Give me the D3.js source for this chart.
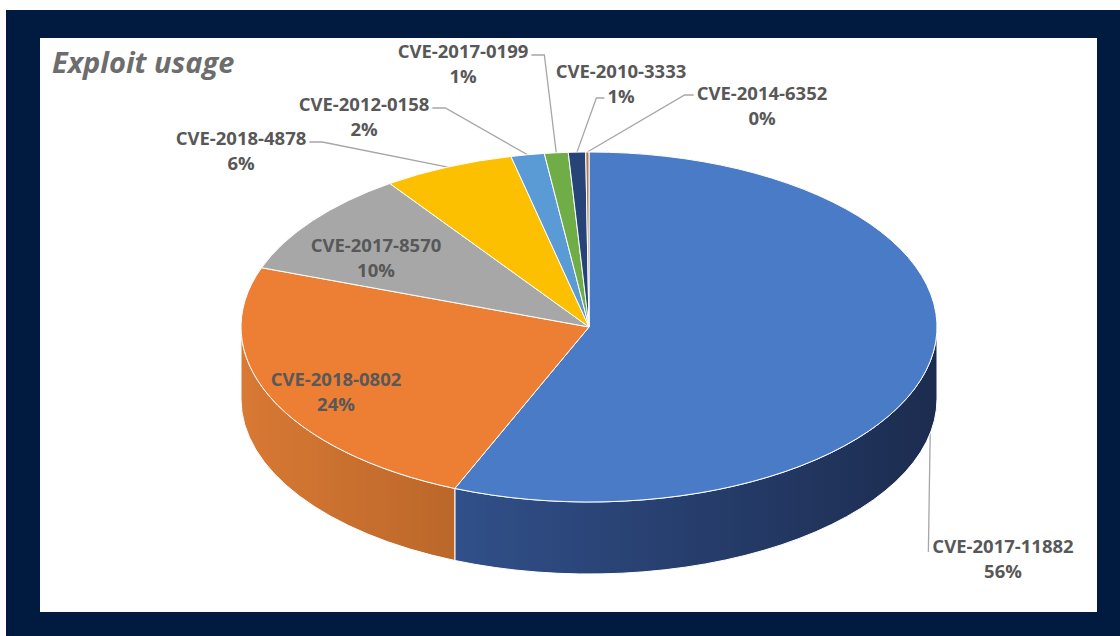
<!doctype html>
<html>
  <head>
    <script src="https://cdn.jsdelivr.net/npm/d3@7"></script>
    <style>
      body {
          margin: 0;
          background: #fff;
          font-family: "Open Sans", sans-serif;
      }
      .title {
          font-size: 29px;
          font-weight: 700;
          font-style: italic;
          fill: #6d6d6d;
      }
      .lbl {
          font-size: 18.5px;
          font-weight: 700;
          fill: #585858;
          text-anchor: middle;
      }
      .leader {
          fill: none;
          stroke: #a6a6a6;
          stroke-width: 1.3;
      }
    </style>
  </head>
  <body>
    <script type="text/javascript">
        // data
        var categories = ["CVE-2017-11882", "CVE-2018-0802", "CVE-2017-8570", "CVE-2018-4878",
                          "CVE-2012-0158", "CVE-2017-0199", "CVE-2010-3333", "CVE-2014-6352"];
        var shares = [56.3, 24.2, 9.8, 6.1, 1.55, 1.1, 0.8, 0.15];

        // styles
        var topColors = ["#4a7bc7", "#ed7f34", "#a7a7a7", "#fdc000", "#5b9bd5", "#70ad47", "#264478", "#b07850"];
        var sideColors = [["#3a5fa3", "#1c2c4f"], ["#d87934", "#7a3f14"], ["#999", "#666"], ["#d9a300", "#a07800"],
                          ["#4d85b8", "#35638c"], ["#5f933c", "#45702b"], ["#203a66", "#172a4a"], ["#86400c", "#5e2d08"]];

        // label placement (center x, baseline of first line, where the leader meets the text)
        var labelLayout = {
            "CVE-2017-11882": {x: 1003, y: 553, end: "below"},
            "CVE-2018-0802":  {x: 336, y: 386, end: "inside"},
            "CVE-2017-8570":  {x: 376, y: 252, end: "inside"},
            "CVE-2018-4878":  {x: 241, y: 145, end: "right1"},
            "CVE-2012-0158":  {x: 364, y: 111, end: "right1"},
            "CVE-2017-0199":  {x: 463, y: 58,  end: "right1"},
            "CVE-2010-3333":  {x: 621, y: 78,  end: "left2"},
            "CVE-2014-6352":  {x: 762, y: 100, end: "left1"}
        };

        var W = 1120, H = 636;
        var cx = 589, cy = 327, rx = 348, ry = 175, depth = 72;

        var svg = d3.select("body").append("svg")
            .attr("width", W)
            .attr("height", H);

        // frame
        svg.append("rect").attr("x", 6).attr("y", 10).attr("width", W - 6).attr("height", H - 10).attr("fill", "#011b40");
        svg.append("rect").attr("x", 40).attr("y", 38).attr("width", 1057).attr("height", 574).attr("fill", "#fff");

        svg.append("text")
            .attr("class", "title")
            .attr("x", 52)
            .attr("y", 73)
            .text("Exploit usage");

        var data = categories.map(function(c, i) { return {name: c, value: shares[i], i: i}; });

        var pie = d3.pie()
            .sort(null)
            .value(d => d.value)
            .startAngle(0)
            .endAngle(2 * Math.PI);

        var arcs = pie(data);

        function pt(a, dy) {
            return [cx + rx * Math.sin(a), cy - ry * Math.cos(a) + (dy || 0)];
        }

        function topPath(a0, a1) {
            var p0 = pt(a0), p1 = pt(a1);
            return "M" + cx + "," + cy + "L" + p0 + "A" + rx + "," + ry + " 0 " + (a1 - a0 > Math.PI ? 1 : 0) + " 1 " + p1 + "Z";
        }

        function sidePath(a0, a1) {
            var p0 = pt(a0), p1 = pt(a1), q1 = pt(a1, depth), q0 = pt(a0, depth);
            return "M" + p0 + "A" + rx + "," + ry + " 0 0 1 " + p1 + "L" + q1 + "A" + rx + "," + ry + " 0 0 0 " + q0 + "Z";
        }

        var defs = svg.append("defs");
        arcs.forEach(function(d) {
            var g = defs.append("linearGradient")
                .attr("id", "side" + d.data.i)
                .attr("gradientUnits", "userSpaceOnUse")
                .attr("x1", cx - rx).attr("x2", cx + rx)
                .attr("y1", 0).attr("y2", 0);
            g.append("stop").attr("offset", 0).attr("stop-color", sideColors[d.data.i][0]);
            g.append("stop").attr("offset", 1).attr("stop-color", sideColors[d.data.i][1]);
        });

        // sides (front half only)
        var front = arcs.filter(d => d.endAngle > Math.PI / 2 && d.startAngle < 3 * Math.PI / 2);
        svg.append("g").selectAll("path")
            .data(front)
            .enter().append("path")
            .attr("d", d => sidePath(Math.max(d.startAngle, Math.PI / 2), Math.min(d.endAngle, 3 * Math.PI / 2)))
            .attr("fill", d => "url(#side" + d.data.i + ")")
            .attr("stroke", "#fff")
            .attr("stroke-width", 1);

        // top faces
        svg.append("g").selectAll("path")
            .data(arcs)
            .enter().append("path")
            .attr("d", d => topPath(d.startAngle, d.endAngle))
            .attr("fill", d => topColors[d.data.i])
            .attr("stroke", "#fff")
            .attr("stroke-width", 1);

        var pct = d3.format(".0%");

        // labels
        var labels = svg.append("g").selectAll("g")
            .data(arcs)
            .enter().append("g");

        labels.each(function(d) {
            var L = labelLayout[d.data.name];
            var g = d3.select(this);
            var t1 = g.append("text").attr("class", "lbl").attr("x", L.x).attr("y", L.y).text(d.data.name);
            var t2 = g.append("text").attr("class", "lbl").attr("x", L.x).attr("y", L.y + 25).text(pct(d.data.value / 100));
            if (L.end == "inside") return;

            var w1 = t1.node().getComputedTextLength(), w2 = t2.node().getComputedTextLength();
            var mid = (d.startAngle + d.endAngle) / 2;
            var isFront = mid > Math.PI / 2 && mid < 3 * Math.PI / 2;
            var anchor = pt(mid, isFront ? depth : 0);
            var pts;
            if (L.end == "right1") {
                var e = [L.x + w1 / 2 + 3, L.y - 3];
                pts = [anchor, [e[0] + 13, e[1]], e];
            } else if (L.end == "left1") {
                var e = [L.x - w1 / 2 - 3, L.y - 5];
                pts = [anchor, [e[0] - 9, e[1]], e];
            } else if (L.end == "left2") {
                var e = [L.x - w2 / 2 - 3, L.y + 25 - 5];
                pts = [anchor, [e[0] - 8, e[1]], e];
            } else {
                pts = [anchor, [L.x - w1 / 2 - 4, L.y - 1]];
            }
            svg.insert("path", "g")
                .attr("class", "leader")
                .attr("d", d3.line()(pts));
        });
    </script>
  </body>
</html>
